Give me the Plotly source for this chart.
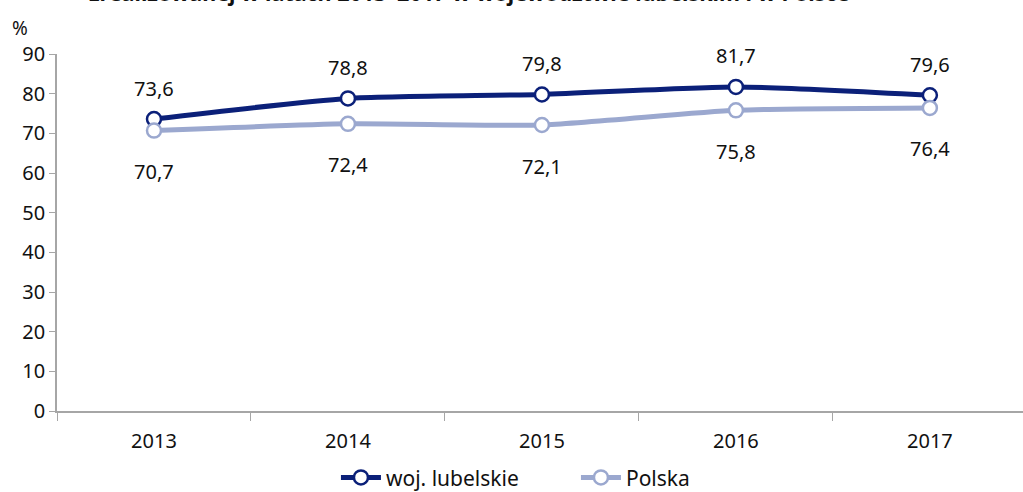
import plotly.graph_objects as go

years = ["2013", "2014", "2015", "2016", "2017"]
lubelskie = [73.6, 78.8, 79.8, 81.7, 79.6]
polska = [70.7, 72.4, 72.1, 75.8, 76.4]
y_ticks = [0, 10, 20, 30, 40, 50, 60, 70, 80, 90]
title_text = "zrealizowanej w latach 2013–2017 w województwie lubelskim i w Polsce"

DARK = "#0b2079"
LIGHT = "#9ba8cf"
FONT = "Noto Sans"

fig = go.Figure()
fig.add_trace(go.Scatter(
    x=years, y=lubelskie, name="woj. lubelskie", mode="lines+markers",
    line=dict(color=DARK, width=5, shape="spline", smoothing=0.6),
    marker=dict(size=14, color="white", line=dict(color=DARK, width=2.5)),
))
fig.add_trace(go.Scatter(
    x=years, y=polska, name="Polska", mode="lines+markers",
    line=dict(color=LIGHT, width=5, shape="spline", smoothing=0.6),
    marker=dict(size=14, color="white", line=dict(color=LIGHT, width=2.5)),
))

fmt = lambda v: f"{v:.1f}".replace(".", ",")
for i, v in enumerate(lubelskie):
    fig.add_annotation(xref="x", yref="y", x=i, y=v, text=fmt(v), showarrow=False, yshift=31,
                       font=dict(family=FONT, size=20, color="#111"))
for i, v in enumerate(polska):
    fig.add_annotation(xref="x", yref="y", x=i, y=v, text=fmt(v), showarrow=False, yshift=-41,
                       font=dict(family=FONT, size=20, color="#111"))

fig.add_annotation(xref="paper", yref="paper", x=-0.038, y=1.03, text="%",
                   showarrow=False, xanchor="center", yanchor="bottom",
                   font=dict(family=FONT, size=19, color="#111"))
fig.add_annotation(xref="paper", yref="paper", x=0.426, y=1.125, text="<b>" + title_text + "</b>",
                   showarrow=False, xanchor="center", yanchor="bottom",
                   font=dict(family=FONT, size=21.5, color="#111"))

fig.update_layout(
    width=1023, height=492,
    margin=dict(l=57, r=0, t=54, b=81, autoexpand=False),
    paper_bgcolor="white", plot_bgcolor="white",
    font=dict(family=FONT, size=20, color="#111"),
    showlegend=True,
    legend=dict(orientation="h", xref="container", x=0.563, xanchor="center",
                yref="paper", y=-0.187, yanchor="middle",
                font=dict(family=FONT, size=21, color="#111"),
                itemwidth=40, tracegroupgap=0, entrywidth=185, entrywidthmode="pixels"),
    xaxis=dict(type="category", range=[-0.5, 4.48], showgrid=False, automargin=False,
               showline=True, linecolor="#a6a6a6", linewidth=1.5,
               ticks="outside", tickson="boundaries", ticklen=8, tickcolor="#a6a6a6",
               ticklabelstandoff=11, tickfont=dict(family=FONT, size=20, color="#111")),
    yaxis=dict(range=[0, 90], tickvals=y_ticks, showgrid=False, zeroline=False, automargin=False,
               showline=True, linecolor="#a6a6a6", linewidth=1.5,
               ticks="outside", ticklen=6, tickcolor="#a6a6a6",
               tickfont=dict(family=FONT, size=20, color="#111")),
)

fig.write_html("out.html", config={"displayModeBar": False},
               post_script="document.body.style.margin='0';document.body.style.overflow='hidden';")
